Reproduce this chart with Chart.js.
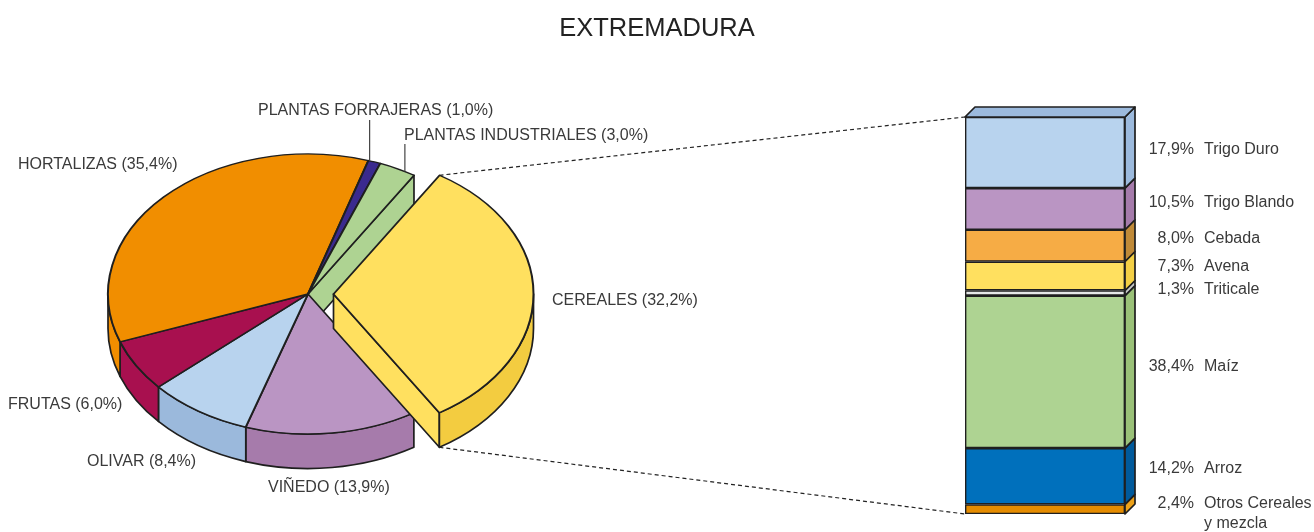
<!DOCTYPE html>
<html><head><meta charset="utf-8">
<style>html,body{margin:0;padding:0;background:#fff}canvas{position:absolute;left:0;top:0}</style>
<script src="https://cdn.jsdelivr.net/npm/chart.js@4/dist/chart.umd.js"></script>
</head><body>
<canvas id="pie" width="1314" height="532"></canvas>
<canvas id="bar" width="1314" height="532"></canvas>
<script>
const chartTitle = 'EXTREMADURA';
const pieNames = ['CEREALES','VIÑEDO','OLIVAR','FRUTAS','HORTALIZAS','PLANTAS FORRAJERAS','PLANTAS INDUSTRIALES'];
const pieValues = [32.2,13.9,8.4,6.0,35.4,1.0,3.0];
const pieColors = ['#FFE05F','#BA95C3','#B8D3EE','#A8104F','#F18E00','#3A2A8E','#AED392'];
const pieSides  = ['#F3CC40','#A67BAB','#9BB9DC','#A8104F','#F18E00','#3A2A8E','#AED392'];
const barNames = ['Otros Cereales','Arroz','Maíz','Triticale','Avena','Cebada','Trigo Blando','Trigo Duro'];
const barValues = [2.4,14.2,38.4,1.3,7.3,8.0,10.5,17.9];
const barColors = ['#E58C00','#0070BC','#AED392','#E6E8E8','#FFE05F','#F6AC45','#BA95C3','#B8D3EE'];
const barSides  = ['#EDA21A','#005A9C','#9AC178','#C8CACA','#F3CF45','#C08A38','#A57BAB','#9CBADD'];

const INK='#1f1f1f', TXT='#3a3a3a', FONT='"Liberation Sans", Arial, sans-serif', SIZE=16;
const fmt=v=>v.toFixed(1).replace('.',',')+'%';
const TILT=0.70, DEPTH=34.5, POP=25.5, POPPED=0;

function apex(arc,i){
  if(i!==POPPED) return {x:arc.x,y:arc.y};
  const m=(arc.startAngle+arc.endAngle)/2;
  return {x:arc.x+POP*Math.cos(m),y:arc.y+POP*Math.sin(m)*TILT};
}
function rimPoint(arc,i,a){
  const c=apex(arc,i);
  return {x:c.x+arc.outerRadius*Math.cos(a),y:c.y+arc.outerRadius*TILT*Math.sin(a)};
}
function radialWall(ctx,arc,i,a,color){
  const c=apex(arc,i),p=rimPoint(arc,i,a);
  ctx.beginPath();ctx.moveTo(c.x,c.y);ctx.lineTo(p.x,p.y);ctx.lineTo(p.x,p.y+DEPTH);ctx.lineTo(c.x,c.y+DEPTH);ctx.closePath();
  ctx.fillStyle=color;ctx.fill();ctx.stroke();
}
function rimWall(ctx,arc,i,color){
  const c=apex(arc,i),R=arc.outerRadius,Ry=R*TILT,T=2*Math.PI;
  for(let n=-2;n<=2;n++){
    const lo=Math.max(arc.startAngle,T*n),hi=Math.min(arc.endAngle,T*n+Math.PI);
    if(lo>=hi)continue;
    ctx.beginPath();
    ctx.ellipse(c.x,c.y,R,Ry,0,lo,hi);
    ctx.ellipse(c.x,c.y+DEPTH,R,Ry,0,hi,lo,true);
    ctx.closePath();ctx.fillStyle=color;ctx.fill();ctx.stroke();
  }
}
function topFace(ctx,arc,i){
  const c=apex(arc,i);
  ctx.save();ctx.translate(c.x,c.y);ctx.scale(1,TILT);ctx.translate(-arc.x,-arc.y);arc.draw(ctx);ctx.restore();
}
const pie3d={id:'pie3d',
  beforeDatasetDraw(chart){
    const ctx=chart.ctx,arcs=chart.getDatasetMeta(0).data,n=arcs.length;
    ctx.save();ctx.strokeStyle=INK;ctx.lineWidth=1.7;ctx.lineJoin='round';
    const before=(POPPED+n-1)%n;
    radialWall(ctx,arcs[before],before,arcs[before].endAngle,pieColors[before]);
    arcs.forEach((a,i)=>{if(i!==POPPED)rimWall(ctx,a,i,pieSides[i]);});
    arcs.forEach((a,i)=>{if(i!==POPPED)topFace(ctx,a,i);});
    radialWall(ctx,arcs[POPPED],POPPED,arcs[POPPED].endAngle,pieColors[POPPED]);
    rimWall(ctx,arcs[POPPED],POPPED,pieSides[POPPED]);
    topFace(ctx,arcs[POPPED],POPPED);
    ctx.restore();
    return false;
  },
  afterDraw(chart){
    const ctx=chart.ctx,arcs=chart.getDatasetMeta(0).data;
    const spots={CEREALES:[552,301],'VIÑEDO':[268,488],OLIVAR:[87,462],FRUTAS:[8,405],HORTALIZAS:[18,165],
      'PLANTAS FORRAJERAS':[258,111],'PLANTAS INDUSTRIALES':[404,136]};
    const leaders={'PLANTAS FORRAJERAS':[120,0.1],'PLANTAS INDUSTRIALES':[144,0.72]};
    ctx.save();ctx.font=SIZE+'px '+FONT;ctx.fillStyle=TXT;ctx.textBaseline='middle';ctx.textAlign='left';
    pieNames.forEach((nm,i)=>{
      ctx.fillText(nm+' ('+fmt(pieValues[i])+')',spots[nm][0],spots[nm][1]);
      if(leaders[nm]){
        const a=arcs[i],p=rimPoint(a,i,a.startAngle+(a.endAngle-a.startAngle)*leaders[nm][1]);
        ctx.strokeStyle='#444';ctx.lineWidth=1.2;ctx.beginPath();ctx.moveTo(p.x,p.y);ctx.lineTo(p.x,leaders[nm][0]);ctx.stroke();
      }
    });
    ctx.restore();
  }
};
const pieChart=new Chart(document.getElementById('pie'),{
  type:'pie',
  data:{labels:pieNames,datasets:[{data:pieValues,backgroundColor:pieColors,borderColor:INK,borderWidth:2,borderJoinStyle:'round'}]},
  options:{responsive:false,animation:false,rotation:32,
    layout:{padding:{left:107,right:805,top:93,bottom:37}},
    plugins:{legend:{display:false},tooltip:{enabled:false},
      title:{display:false}}},
  plugins:[pie3d]
});
const bar3d={id:'bar3d',
  beforeDatasetsDraw(chart){
    const ctx=chart.ctx,D=10;
    ctx.save();ctx.strokeStyle=INK;ctx.lineWidth=1.7;ctx.lineJoin='round';
    barValues.forEach((v,i)=>{
      const b=chart.getDatasetMeta(i).data[0],r=b.x+b.width/2,l=b.x-b.width/2;
      ctx.beginPath();ctx.moveTo(r,b.base);ctx.lineTo(r+D,b.base-D);ctx.lineTo(r+D,b.y-D);ctx.lineTo(r,b.y);ctx.closePath();
      ctx.fillStyle=barSides[i];ctx.fill();ctx.stroke();
      if(i===barValues.length-1){
        ctx.beginPath();ctx.moveTo(l,b.y);ctx.lineTo(l+D,b.y-D);ctx.lineTo(r+D,b.y-D);ctx.lineTo(r,b.y);ctx.closePath();
        ctx.fillStyle=barSides[i];ctx.fill();ctx.stroke();
      }
    });
    ctx.restore();
  },
  afterDraw(chart){
    const ctx=chart.ctx,a=chart.chartArea;
    const ys={'Trigo Duro':150,'Trigo Blando':203,'Cebada':239,'Avena':267,'Triticale':290,'Maíz':367,'Arroz':469,'Otros Cereales':504};
    ctx.save();ctx.font=SIZE+'px '+FONT;ctx.fillStyle=TXT;ctx.textBaseline='middle';
    barNames.forEach((nm,i)=>{
      ctx.textAlign='right';ctx.fillText(fmt(barValues[i]),1194,ys[nm]);
      ctx.textAlign='left';ctx.fillText(nm,1204,ys[nm]);
    });
    ctx.fillText('y mezcla',1204,524);
    ctx.textAlign='center';ctx.font='25.5px '+FONT;ctx.fillStyle='#222';ctx.fillText(chartTitle,657,29);
    const arc=pieChart.getDatasetMeta(0).data[POPPED];
    const p1=rimPoint(arc,POPPED,arc.startAngle),p2=rimPoint(arc,POPPED,arc.endAngle);
    const yTop=chart.scales.y.getPixelForValue(100),yBot=chart.scales.y.getPixelForValue(0);
    ctx.strokeStyle='#222';ctx.lineWidth=1.2;ctx.setLineDash([4,3]);
    ctx.beginPath();ctx.moveTo(p1.x,p1.y);ctx.lineTo(a.left,yTop);
    ctx.moveTo(p2.x,p2.y+DEPTH);ctx.lineTo(a.left,yBot);ctx.stroke();
    ctx.restore();
  }
};
new Chart(document.getElementById('bar'),{
  type:'bar',
  data:{labels:['CEREALES'],datasets:barNames.map((nm,i)=>({label:nm,data:[barValues[i]],backgroundColor:barColors[i],
    borderColor:INK,borderWidth:1.7,borderSkipped:false,barPercentage:1,categoryPercentage:1}))},
  options:{responsive:false,animation:false,
    layout:{padding:{left:965,right:189,top:117,bottom:18}},
    scales:{x:{stacked:true,display:false},y:{stacked:true,display:false,min:0,max:100}},
    plugins:{legend:{display:false},tooltip:{enabled:false}}},
  plugins:[bar3d]
});
</script></body></html>
